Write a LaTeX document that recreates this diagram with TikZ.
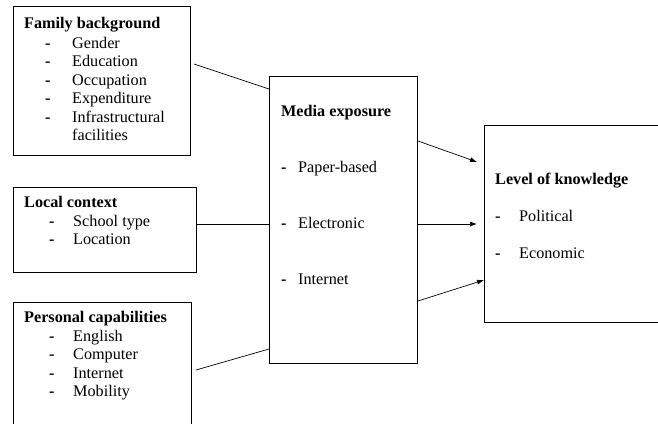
\documentclass[tikz,border=0pt]{standalone}
\usepackage{fontspec}
\setmainfont{Liberation Serif}
\usetikzlibrary{arrows.meta,calc}

\tikzset{
  box/.style={draw=black,line width=1pt,rectangle,inner sep=0pt,anchor=north west},
  txt/.style={anchor=base west,inner sep=0pt,text=black},
  ttl/.style={txt,font=\bfseries},
  dsh/.style={txt,font=\bfseries},
  link/.style={black,line width=0.7pt},
  arr/.style={link,-{Latex[length=7pt,width=5pt]}}
}

\begin{document}
\begin{tikzpicture}[x=1pt,y=-1pt]
\fontsize{16.2}{18.5}\selectfont
\useasboundingbox (0,0) rectangle (658,423);
\clip (0,0) rectangle (658,423);
% boxes
\node[box,minimum width=177pt,minimum height=149pt] (family) at (13,6) {};
\node[box,minimum width=183pt,minimum height=85pt] (local) at (13,187) {};
\node[box,minimum width=178pt,minimum height=160pt] (personal) at (13,302) {};
\node[box,minimum width=148pt,minimum height=287pt] (media) at (269,76) {};
\node[box,minimum width=220pt,minimum height=197pt] (level) at (484,125) {};
% family background
\path (24,28) node[ttl] (famttl) {Family background};
\foreach \y/\t in {48/Gender,66.5/Education,85/Occupation,103.5/Expenditure,122/Infrastructural}{
  \path (45,\y) node[dsh] (famd\y) {-};
  \path (72,\y) node[txt] (fam\y) {\t};
}
\path (72,140.5) node[txt] (famlast) {facilities};
% local context
\path (24,207) node[ttl] (locttl) {Local context};
\foreach \y/\t in {226/School type,244/Location}{
  \path (49,\y) node[dsh] (locd\y) {-};
  \path (73,\y) node[txt] (loc\y) {\t};
}
% personal capabilities
\path (24,322) node[ttl] (perttl) {Personal capabilities};
\foreach \y/\t in {341/English,359.5/Computer,378/Internet,396.5/Mobility}{
  \path (49,\y) node[dsh] (perd\y) {-};
  \path (73,\y) node[txt] (per\y) {\t};
}
% media exposure
\path (281,116) node[ttl] (medttl) {Media exposure};
\foreach \y/\t in {172/Paper-based,228/Electronic,284/Internet}{
  \path (281,\y) node[dsh] (medd\y) {-};
  \path (298,\y) node[txt] (med\y) {\t};
}
% level of knowledge
\path (495,184) node[ttl] (levttl) {Level of knowledge};
\foreach \y/\t in {221/Political,258/Economic}{
  \path (495,\y) node[dsh] (levd\y) {-};
  \path (519,\y) node[txt] (lev\y) {\t};
}
% connectors
\coordinate (famout) at (194,64);
\coordinate (perout) at (196,370);
\draw[link] (famout) -- ($(media.north west)+(0,13)$);
\draw[link] (local.east |- level.west) -- (media.west |- level.west);
\draw[link] (perout) -- ($(media.south west)+(0,-15)$);
\draw[arr] ($(media.north east)+(0,65)$) -- ($(level.north west)+(-7,37)$);
\draw[arr] (media.east |- level.west) -- ($(level.west)+(-7,0)$);
\draw[arr] ($(media.south east)+(0,-63)$) -- ($(level.south west)+(0,-43)$);
\end{tikzpicture}
\end{document}
